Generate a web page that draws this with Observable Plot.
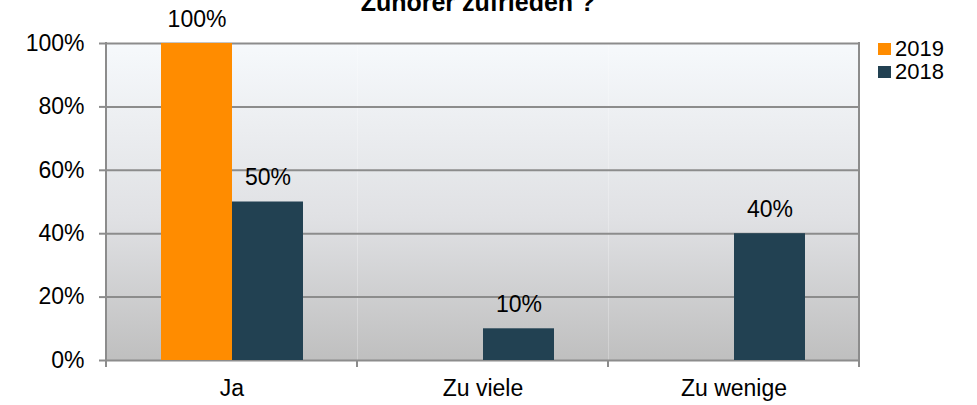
<!DOCTYPE html>
<html>
<head>
<meta charset="utf-8">
<script src="https://cdn.jsdelivr.net/npm/d3@7"></script>
<script src="https://cdn.jsdelivr.net/npm/@observablehq/plot@0.6"></script>
<style>
  html, body { margin: 0; padding: 0; background: #fff; }
  #wrap { position: relative; width: 977px; height: 405px; overflow: hidden; font-family: "Liberation Sans", Arial, sans-serif; }
  #title { position: absolute; left: 0; width: 956px; top: -10px; text-align: center; font-weight: bold; font-size: 25px; color: #000; white-space: nowrap; line-height: 1; }
  #legend { position: absolute; left: 878px; top: 37px; font-size: 22px; color: #000; }
  #legend .row { display: flex; align-items: center; height: 23px; line-height: 23px; }
  #legend .sw { width: 13px; height: 12px; margin-right: 4px; }
</style>
</head>
<body>
<div id="wrap">
  <div id="chart"></div>
  <div id="title"></div>
  <div id="legend"></div>
</div>
<script>
const titleText = "Zuhörer zufrieden ?";
const categories = ["Ja", "Zu viele", "Zu wenige"];
const seriesNames = ["2019", "2018"];
const values2019 = [100, null, null];
const values2018 = [50, 10, 40];
const yTicks = [0, 20, 40, 60, 80, 100];
const seriesColors = ["#ff8c00", "#224152"];

const data = [];
categories.forEach((c, i) => {
  if (values2019[i] != null) data.push({category: c, series: seriesNames[0], value: values2019[i]});
  if (values2018[i] != null) data.push({category: c, series: seriesNames[1], value: values2018[i]});
});

const gridColor = "#8c8c8c";
const fs = 23;

const chart = Plot.plot({
  width: 977,
  height: 405,
  marginLeft: 105,
  marginRight: 117,
  marginTop: 43,
  marginBottom: 45,
  style: {fontFamily: "Liberation Sans, Arial, sans-serif", fontSize: fs + "px", color: "#000", background: "transparent", overflow: "visible"},
  fx: {domain: categories, padding: 0},
  x: {domain: seriesNames, paddingInner: 0, paddingOuter: 0.75},
  y: {domain: [0, 100]},
  color: {domain: seriesNames, range: seriesColors},
  marks: [
    Plot.frame({fill: "url(#bgGrad)", stroke: null}),
    Plot.gridY(yTicks, {stroke: gridColor, strokeOpacity: 1, strokeWidth: 2}),
    Plot.axisY(yTicks, {tickFormat: d => d + "%", tickSize: 7, tickPadding: 15, stroke: gridColor, strokeWidth: 2, fill: "#000", fontSize: fs, label: null}),
    Plot.axisFx({anchor: "bottom", tickSize: 0, tickPadding: 19, fontSize: fs, fill: "#000", label: null}),
    Plot.axisX({ticks: [], label: null}),
    Plot.barY(data, {fx: "category", x: "series", y: "value", fill: "series"}),
    Plot.text(data, {fx: "category", x: "series", y: "value", text: d => d.value + "%", dy: -24, fill: "#000", fontSize: fs})
  ]
});

// gradient background for the plot frame
const svg = d3.select(chart);
const defs = svg.insert("defs", ":first-child");
const grad = defs.append("linearGradient").attr("id", "bgGrad").attr("x1", 0).attr("y1", 0).attr("x2", 0).attr("y2", 1);
grad.append("stop").attr("offset", "0%").attr("stop-color", "#f6f9fc");
grad.append("stop").attr("offset", "55%").attr("stop-color", "#e0e1e4");
grad.append("stop").attr("offset", "100%").attr("stop-color", "#bfbfbf");

// category boundary ticks and side borders, from the library's scales
const fx = chart.scale("fx");
const ys = chart.scale("y");
const y0 = ys.apply(0), y100 = ys.apply(100);
const bounds = [];
categories.forEach((c, i) => {
  const left = fx.apply(c);
  bounds.push(left);
  if (i === categories.length - 1) bounds.push(left + fx.bandwidth);
});
const g = svg.append("g");
bounds.forEach((bx, i) => {
  const isEdge = i === 0 || i === bounds.length - 1;
  g.append("line")
    .attr("x1", bx).attr("x2", bx)
    .attr("y1", isEdge ? y100 - 1 : y0).attr("y2", y0 + 7)
    .attr("stroke", gridColor).attr("stroke-width", 2);
});

document.getElementById("chart").appendChild(chart);
document.getElementById("title").textContent = titleText;

const legend = document.getElementById("legend");
seriesNames.forEach((s, i) => {
  const row = document.createElement("div");
  row.className = "row";
  const sw = document.createElement("div");
  sw.className = "sw";
  sw.style.background = seriesColors[i];
  const t = document.createElement("span");
  t.textContent = s;
  row.appendChild(sw);
  row.appendChild(t);
  legend.appendChild(row);
});
</script>
</body>
</html>
